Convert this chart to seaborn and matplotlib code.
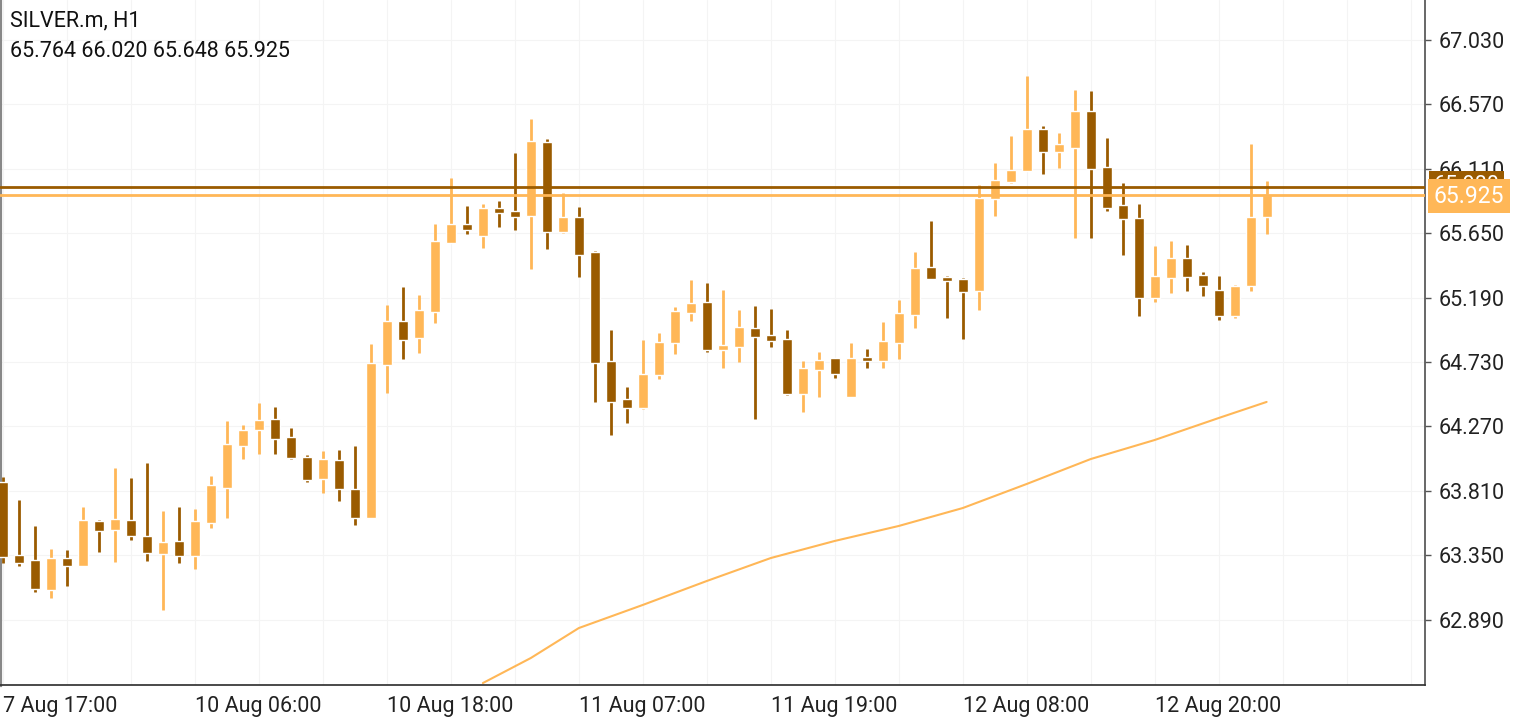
import matplotlib
matplotlib.use("Agg")
import matplotlib.pyplot as plt
import seaborn as sns
import numpy as np
import pandas as pd

# hourly candles
opens = [63.875, 63.352, 63.316, 63.102, 63.328, 63.275, 63.595, 63.532, 63.602, 63.487,
         63.361, 63.452, 63.347, 63.582, 63.832, 64.132, 64.247, 64.323, 64.195, 64.052,
         63.897, 64.030, 63.823, 63.618, 64.709, 65.023, 64.902, 65.087, 65.580, 65.716,
         65.630, 65.830, 65.809, 65.773, 66.302, 65.659, 65.766, 65.516, 64.737, 64.466,
         64.402, 64.637, 64.866, 65.080, 65.159, 64.816, 64.837, 64.973, 64.923, 64.895,
         64.502, 64.673, 64.759, 64.482, 64.766, 64.740, 64.868, 65.068, 65.409, 65.337,
         65.323, 65.240, 65.897, 66.018, 66.097, 66.395, 66.232, 66.261, 66.523, 66.123,
         65.852, 65.759, 65.190, 65.332, 65.473, 65.352, 65.245, 65.061, 65.275, 65.764]
highs = [63.911, 63.745, 63.559, 63.395, 63.387, 63.695, 63.600, 63.973, 63.902, 64.009,
         63.666, 63.695, 63.680, 63.916, 64.309, 64.280, 64.437, 64.409, 64.259, 64.066,
         64.095, 64.102, 64.130, 64.857, 65.137, 65.266, 65.209, 65.716, 66.045, 65.845,
         65.859, 65.880, 66.223, 66.466, 66.323, 65.937, 65.837, 65.520, 64.959, 64.552,
         64.887, 64.937, 65.123, 65.316, 65.295, 65.245, 65.102, 65.130, 65.109, 64.959,
         64.737, 64.802, 64.760, 64.866, 64.823, 65.016, 65.173, 65.516, 65.737, 65.345,
         65.330, 65.995, 66.152, 66.345, 66.773, 66.416, 66.366, 66.673, 66.666, 66.330,
         66.009, 65.859, 65.561, 65.595, 65.568, 65.375, 65.345, 65.280, 66.290, 66.020]
lows = [63.292, 63.275, 63.090, 63.047, 63.132, 63.270, 63.373, 63.304, 63.461, 63.311,
        62.961, 63.297, 63.254, 63.547, 63.618, 64.040, 64.075, 64.075, 64.040, 63.875,
        63.797, 63.740, 63.568, 63.615, 64.511, 64.754, 64.797, 65.011, 65.578, 65.645,
        65.545, 65.695, 65.673, 65.395, 65.537, 65.655, 65.337, 64.445, 64.209, 64.295,
        64.398, 64.609, 64.787, 65.023, 64.802, 64.687, 64.730, 64.323, 64.837, 64.495,
        64.373, 64.480, 64.614, 64.478, 64.690, 64.690, 64.754, 64.975, 65.320, 65.047,
        64.897, 65.104, 65.775, 66.010, 66.095, 66.075, 66.118, 65.618, 65.618, 65.811,
        65.497, 65.061, 65.161, 65.225, 65.240, 65.204, 65.032, 65.047, 65.240, 65.648]
closes = [63.340, 63.297, 63.109, 63.328, 63.275, 63.602, 63.525, 63.609, 63.490, 63.368,
          63.445, 63.347, 63.595, 63.852, 64.145, 64.245, 64.316, 64.182, 64.045, 63.890,
          64.037, 63.825, 63.618, 64.721, 65.023, 64.887, 65.102, 65.595, 65.716, 65.673,
          65.830, 65.795, 65.766, 66.309, 65.659, 65.766, 65.495, 64.723, 64.445, 64.402,
          64.645, 64.873, 65.095, 65.152, 64.816, 64.852, 64.980, 64.909, 64.880, 64.502,
          64.687, 64.745, 64.642, 64.759, 64.740, 64.880, 65.080, 65.402, 65.325, 65.311,
          65.232, 65.902, 66.030, 66.102, 66.395, 66.232, 66.287, 66.523, 66.111, 65.832,
          65.754, 65.190, 65.345, 65.473, 65.340, 65.275, 65.061, 65.275, 65.764, 65.925]

# moving average, sampled along the line
ma_idx = [30, 33, 36, 40, 44, 48, 52, 56, 60, 64, 68, 72, 76, 79]
ma_val = [62.437, 62.616, 62.830, 62.995, 63.166, 63.330, 63.452, 63.559, 63.687,
          63.859, 64.037, 64.173, 64.330, 64.445]

tick_idx = [0, 12, 24, 36, 48, 60, 72]
tick_lab = ["7 Aug 17:00", "10 Aug 06:00", "10 Aug 18:00", "11 Aug 07:00",
            "11 Aug 19:00", "12 Aug 08:00", "12 Aug 20:00"]
price_ticks = [62.890, 63.350, 63.810, 64.270, 64.730, 65.190, 65.650, 66.110, 66.570, 67.030]
bid = 65.925
ask = 65.980

BULL = "#ffb757"
BEAR = "#9a5b00"
FS = 15.5

sns.set_theme(style="white")
plt.rcParams["font.family"] = ["Roboto", "DejaVu Sans"]

df = pd.DataFrame({"o": opens, "h": highs, "l": lows, "c": closes})
df["i"] = np.arange(len(df))
df["up"] = df["c"] >= df["o"]

fig = plt.figure(figsize=(15.4, 7.2), dpi=100)
ax = fig.add_axes([0.0, 0.0486, 0.9253, 0.9514])

# faint grid
for x in np.arange(0, 90, 4):
    ax.axvline(x, color="#f4f4f4", lw=0.8, zorder=0)
for y in price_ticks:
    ax.axhline(y, color="#f4f4f4", lw=0.8, zorder=0)

for _, r in df.iterrows():
    col = BULL if r["up"] else BEAR
    ax.vlines(r["i"], r["l"], r["h"], color=col, lw=2, zorder=2)
    lo, hi = min(r["o"], r["c"]), max(r["o"], r["c"])
    ax.bar(r["i"], max(hi - lo, 0.012), bottom=lo, width=0.62, color=col, zorder=3)

sns.lineplot(x=ma_idx, y=ma_val, ax=ax, color=BULL, lw=1.5, zorder=2)

ax.axhline(ask, color=BEAR, lw=2, zorder=4)
ax.axhline(bid, color=BULL, lw=2, zorder=4)

ax.set_xlim(-0.19, 88.9)
ax.set_ylim(62.423, 67.316)

ax.yaxis.tick_right()
ax.set_yticks(price_ticks)
ax.set_yticklabels([f"{p:.3f}" for p in price_ticks], fontsize=FS, color="#222222")
ax.set_xticks(tick_idx)
ax.set_xticklabels(tick_lab, fontsize=FS, color="#222222", ha="left")
ax.tick_params(axis="both", length=4, width=1, color="#555555", pad=4, direction="out")
ax.tick_params(axis="y", pad=6)
ax.spines["top"].set_visible(False)
ax.spines["left"].set_color("#888888")
ax.spines["left"].set_linewidth(3)
ax.spines["right"].set_color("#555555")
ax.spines["bottom"].set_color("#333333")

# price labels on the right scale: ask box peeks out above the bid box
ax.text(1.006, ask + 0.01, f"{ask:.3f}", transform=ax.get_yaxis_transform(), fontsize=FS,
        color="white", va="center", ha="left",
        bbox=dict(boxstyle="square,pad=0.2", fc=BEAR, ec="none"), zorder=5, clip_on=False)
ax.text(1.006, bid - 0.01, f"{bid:.3f}", transform=ax.get_yaxis_transform(), fontsize=FS + 1,
        color="white", va="center", ha="left",
        bbox=dict(boxstyle="square,pad=0.25", fc=BULL, ec="none"), zorder=6, clip_on=False)

ax.text(0.007, 0.985, "SILVER.m, H1", transform=ax.transAxes, fontsize=FS,
        color="#111111", va="top")
ax.text(0.007, 0.94, f"{opens[-1]:.3f} {highs[-1]:.3f} {lows[-1]:.3f} {closes[-1]:.3f}",
        transform=ax.transAxes, fontsize=FS, color="#111111", va="top")

fig.savefig("out.png", dpi=100, facecolor="white")
